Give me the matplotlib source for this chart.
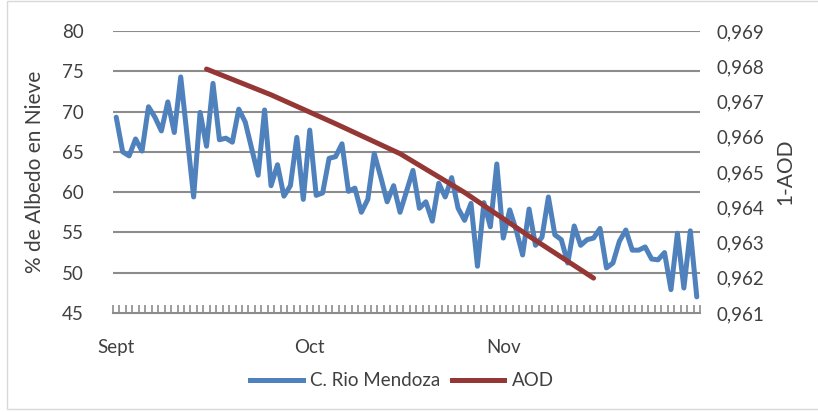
import numpy as np
import matplotlib
matplotlib.use("Agg")
import matplotlib.pyplot as plt
from matplotlib.patches import Rectangle
from matplotlib.lines import Line2D

# ---- data ----
albedo = [69.3, 65.0, 64.5, 66.6, 65.1, 70.6, 69.3, 67.6, 71.2, 67.4,
          74.3, 66.9, 59.4, 69.9, 65.7, 73.5, 66.5, 66.7, 66.2, 70.3,
          68.7, 65.4, 62.1, 70.2, 60.8, 63.4, 59.5, 60.8, 66.8, 59.1,
          67.7, 59.6, 59.9, 64.2, 64.4, 66.0, 60.1, 60.5, 57.5, 59.1,
          64.8, 61.9, 58.8, 60.8, 57.5, 60.1, 62.7, 58.0, 58.8, 56.4,
          61.1, 59.4, 61.8, 58.0, 56.5, 58.6, 50.8, 58.7, 55.7, 63.5,
          54.3, 57.8, 55.3, 52.2, 57.9, 53.4, 54.4, 59.4, 54.7, 54.1,
          51.2, 55.8, 53.4, 54.1, 54.3, 55.5, 50.6, 51.2, 53.9, 55.3,
          52.8, 52.8, 53.2, 51.7, 51.6, 52.5, 47.9, 54.9, 48.1, 55.2,
          47.0]
aod_idx = [14, 24, 34, 44, 54, 64, 74]
aod_val = [0.96792, 0.96719, 0.96637, 0.96552, 0.96442, 0.96318, 0.96199]
month_idx = [0, 30, 60]
month_labels = ["Sept", "Oct", "Nov"]
left_ticks = [45, 50, 55, 60, 65, 70, 75, 80]
right_ticks = [0.961, 0.962, 0.963, 0.964, 0.965, 0.966, 0.967, 0.968, 0.969]

plt.rcParams['font.family'] = ['Lato', 'DejaVu Sans']
txt = '#404040'
blue = '#4f81bd'
red = '#953735'
grid_c = '#8c8c8c'

fig = plt.figure(figsize=(8.18, 4.12), dpi=100)
fig.patches.append(Rectangle((0.009, 0.008), 0.995, 0.99, transform=fig.transFigure,
                             fill=False, edgecolor='#d9d9d9', linewidth=1.0))

ax = fig.add_axes([113/818, 1-313/412, 587/818, 282/412])
x = np.arange(len(albedo))
ax.set_xlim(-0.5, len(albedo) - 0.5)
ax.set_ylim(45, 80)
for v in left_ticks[1:]:
    ax.axhline(v, color=grid_c, lw=1.5, zorder=0)
ax.plot(x, albedo, color=blue, lw=3.6, solid_joinstyle='round', solid_capstyle='round', zorder=3)

ax.set_yticks(left_ticks)
ax.set_yticklabels([str(v) for v in left_ticks], fontsize=13.5, color=txt)
ax.tick_params(axis='y', length=0, pad=21)
ax.set_xticks(month_idx)
ax.set_xticklabels(month_labels, fontsize=13.5, color=txt)
ax.tick_params(axis='x', which='major', length=0, pad=19)
ax.set_xticks(np.arange(-0.5, len(albedo), 1), minor=True)
ax.tick_params(axis='x', which='minor', direction='in', length=6, width=1.2, color=grid_c)
for s in ['top', 'left', 'right']:
    ax.spines[s].set_visible(False)
ax.spines['bottom'].set_color(grid_c)
ax.spines['bottom'].set_linewidth(1.5)
ax.set_ylabel('% de Albedo en Nieve', fontsize=15, color=txt, labelpad=12)

ax2 = ax.twinx()
ax2.set_ylim(0.961, 0.969)
ax2.plot(aod_idx, aod_val, color=red, lw=3.6, solid_capstyle='round', solid_joinstyle='round', zorder=4)
ax2.set_yticks(right_ticks)
ax2.set_yticklabels([f"{v:.3f}".replace('.', ',') for v in right_ticks], fontsize=13.5, color=txt)
ax2.tick_params(axis='y', length=0, pad=12)
for s in ['top', 'left', 'right', 'bottom']:
    ax2.spines[s].set_visible(False)
ax2.set_ylabel('1-AOD', fontsize=15, color=txt, labelpad=8)

handles = [Line2D([0], [0], color=blue, lw=3.6), Line2D([0], [0], color=red, lw=3.6)]
fig.legend(handles, ['C. Rio Mendoza', 'AOD'], loc='center', bbox_to_anchor=(402/818, 1-381/412),
           ncol=2, frameon=False, fontsize=13.5, handlelength=2.8, columnspacing=0.6,
           handletextpad=0.4, labelcolor=txt)

fig.savefig('out.png', dpi=100)
